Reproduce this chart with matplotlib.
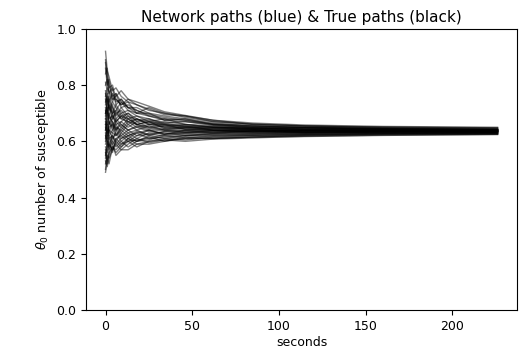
import matplotlib
matplotlib.use("Agg")
import matplotlib.pyplot as plt

# time points (seconds) at which each path value was read
times = [0, 1, 2, 4, 6, 9, 13, 18, 25, 34, 46, 62, 85, 115, 160, 226]

paths = [
    [0.89, 0.83, 0.80, 0.76, 0.77, 0.74, 0.72, 0.71, 0.69, 0.675, 0.67, 0.657, 0.648, 0.646, 0.643, 0.641],
    [0.49, 0.53, 0.56, 0.58, 0.57, 0.59, 0.60, 0.605, 0.61, 0.615, 0.62, 0.618, 0.622, 0.625, 0.627, 0.627],
    [0.70, 0.72, 0.68, 0.69, 0.66, 0.67, 0.69, 0.66, 0.67, 0.65, 0.655, 0.64, 0.642, 0.635, 0.637, 0.636],
    [0.62, 0.60, 0.64, 0.61, 0.63, 0.60, 0.62, 0.63, 0.61, 0.625, 0.63, 0.635, 0.628, 0.633, 0.631, 0.632],
    [0.78, 0.74, 0.76, 0.72, 0.70, 0.71, 0.68, 0.69, 0.67, 0.68, 0.66, 0.655, 0.65, 0.644, 0.642, 0.641],
    [0.55, 0.60, 0.58, 0.63, 0.62, 0.65, 0.63, 0.64, 0.62, 0.635, 0.628, 0.632, 0.637, 0.63, 0.634, 0.634],
    [0.84, 0.86, 0.79, 0.80, 0.75, 0.73, 0.74, 0.70, 0.72, 0.70, 0.69, 0.675, 0.66, 0.655, 0.648, 0.645],
    [0.66, 0.63, 0.67, 0.65, 0.68, 0.66, 0.64, 0.655, 0.64, 0.645, 0.64, 0.645, 0.64, 0.638, 0.637, 0.638],
    [0.58, 0.56, 0.59, 0.57, 0.60, 0.58, 0.61, 0.59, 0.60, 0.61, 0.605, 0.615, 0.62, 0.622, 0.626, 0.629],
    [0.73, 0.76, 0.71, 0.74, 0.72, 0.69, 0.70, 0.68, 0.665, 0.67, 0.66, 0.65, 0.645, 0.648, 0.642, 0.640],
    [0.64, 0.68, 0.70, 0.66, 0.64, 0.67, 0.65, 0.67, 0.65, 0.64, 0.65, 0.64, 0.635, 0.64, 0.638, 0.637],
    [0.52, 0.55, 0.54, 0.57, 0.59, 0.57, 0.59, 0.61, 0.595, 0.605, 0.61, 0.612, 0.616, 0.62, 0.624, 0.626],
    [0.92, 0.85, 0.83, 0.78, 0.79, 0.76, 0.74, 0.73, 0.71, 0.70, 0.685, 0.67, 0.66, 0.654, 0.650, 0.647],
    [0.68, 0.65, 0.62, 0.64, 0.66, 0.63, 0.66, 0.64, 0.655, 0.64, 0.635, 0.64, 0.633, 0.636, 0.635, 0.635],
    [0.60, 0.64, 0.61, 0.59, 0.61, 0.62, 0.60, 0.62, 0.625, 0.62, 0.625, 0.622, 0.626, 0.626, 0.629, 0.630],
    [0.75, 0.70, 0.73, 0.70, 0.73, 0.70, 0.71, 0.69, 0.68, 0.665, 0.67, 0.66, 0.652, 0.65, 0.646, 0.643],
    [0.70, 0.73, 0.75, 0.71, 0.69, 0.72, 0.69, 0.675, 0.68, 0.66, 0.655, 0.65, 0.646, 0.642, 0.640, 0.639],
    [0.63, 0.58, 0.61, 0.62, 0.59, 0.61, 0.63, 0.61, 0.63, 0.63, 0.62, 0.628, 0.63, 0.63, 0.632, 0.633],
    [0.81, 0.78, 0.74, 0.77, 0.74, 0.75, 0.72, 0.72, 0.70, 0.69, 0.68, 0.665, 0.655, 0.65, 0.645, 0.642],
    [0.66, 0.70, 0.66, 0.68, 0.70, 0.68, 0.67, 0.66, 0.645, 0.655, 0.645, 0.648, 0.643, 0.64, 0.639, 0.638],
    [0.56, 0.52, 0.57, 0.60, 0.58, 0.60, 0.58, 0.60, 0.615, 0.60, 0.615, 0.61, 0.615, 0.622, 0.626, 0.628],
    [0.71, 0.66, 0.69, 0.67, 0.65, 0.64, 0.67, 0.65, 0.66, 0.65, 0.645, 0.638, 0.64, 0.633, 0.635, 0.635],
    [0.86, 0.80, 0.82, 0.75, 0.76, 0.78, 0.75, 0.73, 0.715, 0.695, 0.69, 0.67, 0.662, 0.655, 0.651, 0.648],
    [0.67, 0.62, 0.65, 0.66, 0.62, 0.64, 0.62, 0.635, 0.625, 0.635, 0.638, 0.63, 0.636, 0.632, 0.633, 0.634],
    [0.50, 0.57, 0.60, 0.56, 0.61, 0.59, 0.61, 0.60, 0.605, 0.62, 0.612, 0.62, 0.621, 0.625, 0.628, 0.630],
    [0.74, 0.77, 0.72, 0.70, 0.71, 0.74, 0.71, 0.70, 0.69, 0.68, 0.675, 0.66, 0.65, 0.647, 0.644, 0.641],
    [0.61, 0.66, 0.63, 0.67, 0.64, 0.66, 0.64, 0.65, 0.635, 0.64, 0.632, 0.638, 0.634, 0.637, 0.635, 0.636],
    [0.77, 0.72, 0.69, 0.73, 0.68, 0.70, 0.67, 0.68, 0.66, 0.66, 0.65, 0.652, 0.645, 0.643, 0.641, 0.640],
    [0.54, 0.59, 0.62, 0.60, 0.64, 0.61, 0.62, 0.60, 0.62, 0.61, 0.62, 0.625, 0.625, 0.63, 0.630, 0.631],
    [0.69, 0.75, 0.72, 0.68, 0.71, 0.68, 0.70, 0.67, 0.675, 0.655, 0.66, 0.65, 0.648, 0.641, 0.640, 0.639],
    [0.65, 0.61, 0.66, 0.70, 0.67, 0.69, 0.66, 0.68, 0.66, 0.665, 0.652, 0.647, 0.644, 0.64, 0.639, 0.637],
    [0.59, 0.62, 0.57, 0.62, 0.60, 0.63, 0.61, 0.63, 0.64, 0.625, 0.632, 0.627, 0.632, 0.629, 0.632, 0.633],
    [0.80, 0.82, 0.77, 0.74, 0.77, 0.72, 0.73, 0.71, 0.695, 0.685, 0.675, 0.662, 0.656, 0.648, 0.645, 0.643],
    [0.72, 0.69, 0.74, 0.69, 0.67, 0.69, 0.68, 0.66, 0.67, 0.645, 0.65, 0.644, 0.641, 0.638, 0.637, 0.636],
    [0.57, 0.54, 0.52, 0.58, 0.56, 0.58, 0.60, 0.58, 0.60, 0.605, 0.60, 0.608, 0.612, 0.618, 0.622, 0.624],
    [0.64, 0.67, 0.64, 0.63, 0.65, 0.62, 0.64, 0.62, 0.64, 0.625, 0.64, 0.633, 0.638, 0.634, 0.636, 0.635],
    [0.88, 0.81, 0.77, 0.79, 0.73, 0.75, 0.72, 0.70, 0.70, 0.675, 0.68, 0.66, 0.654, 0.65, 0.646, 0.642],
    [0.68, 0.71, 0.67, 0.64, 0.67, 0.65, 0.68, 0.66, 0.65, 0.66, 0.642, 0.64, 0.638, 0.639, 0.637, 0.637],
    [0.53, 0.51, 0.55, 0.59, 0.55, 0.57, 0.57, 0.59, 0.59, 0.60, 0.61, 0.61, 0.615, 0.617, 0.621, 0.625],
    [0.76, 0.79, 0.78, 0.75, 0.75, 0.73, 0.75, 0.74, 0.725, 0.705, 0.692, 0.675, 0.665, 0.658, 0.653, 0.650],
]

title = "Network paths (blue) & True paths (black)"
xlabel = "seconds"
ylabel = r"$\theta_0$ number of susceptible"

fig = plt.figure(figsize=(5.24, 3.56), dpi=100)
ax = fig.add_axes([0.164, 0.129, 0.823, 0.79])
for p in paths:
    ax.plot(times, p, color="black", lw=1.0, alpha=0.5)
ax.set_ylim(0, 1.0)
ax.set_title(title, fontsize=11, pad=5)
ax.set_xlabel(xlabel, fontsize=9, labelpad=2)
ax.set_ylabel(ylabel, fontsize=9.2)
ax.tick_params(labelsize=9, length=3.5, width=0.8)
for s in ax.spines.values():
    s.set_linewidth(0.8)
fig.savefig("out.png", dpi=100)
